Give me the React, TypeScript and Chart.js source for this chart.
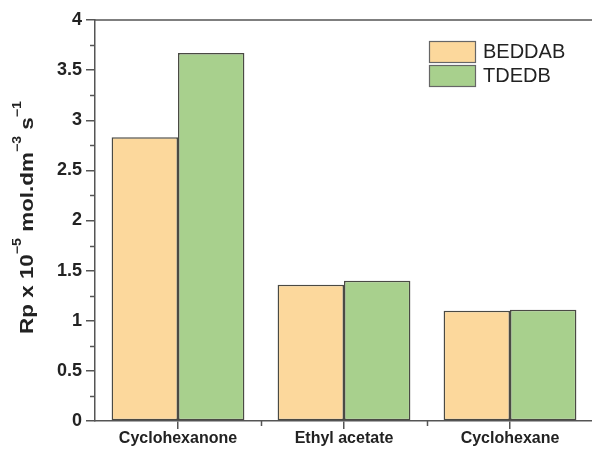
import { useEffect, useRef } from "react";
import { Chart, registerables } from "chart.js";

Chart.register(...registerables);

// Polymerization rate per solvent for the two initiators
const solvents = ["Cyclohexanone", "Ethyl acetate", "Cyclohexane"];
const seriesNames = ["BEDDAB", "TDEDB"];
const beddabRates = [2.83, 1.36, 1.1];
const tdedbRates = [3.67, 1.4, 1.11];
const yMin = 0;
const yMax = 4;
const yStep = 0.5;

// Y-axis title split into normal and superscript runs
const yTitleRuns = ["Rp x 10", "\u22125", " mol.dm", "\u22123", " s", "\u22121"];
const yTitleSup = [false, true, false, true, false, true];

const FONT = "'Liberation Sans', Arial, sans-serif";
const AXIS_COLOR = "#555555";
const FILLS = ["#fcd89c", "#a8d08d"];
const EDGE = "#4a4a44";

// Minor ticks, top frame line, y title with superscripts and the legend
const decorations = {
  id: "decorations",
  afterDraw(chart: any) {
    const { ctx, chartArea } = chart;
    const xs = chart.scales.x;
    const ys = chart.scales.y;
    ctx.save();
    ctx.strokeStyle = AXIS_COLOR;
    ctx.lineWidth = 1.5;

    // top frame
    ctx.beginPath();
    ctx.moveTo(chartArea.left, chartArea.top);
    ctx.lineTo(chartArea.right, chartArea.top);
    ctx.stroke();

    // y minor ticks
    for (let v = yMin + yStep / 2; v < yMax; v += yStep) {
      const py = Math.round(ys.getPixelForValue(v)) + 0.5;
      ctx.beginPath();
      ctx.moveTo(chartArea.left - 5, py);
      ctx.lineTo(chartArea.left, py);
      ctx.stroke();
    }
    // x minor ticks between categories
    for (let i = 0; i < solvents.length - 1; i++) {
      const px = Math.round((xs.getPixelForValue(i) + xs.getPixelForValue(i + 1)) / 2) + 0.5;
      ctx.beginPath();
      ctx.moveTo(px, chartArea.bottom);
      ctx.lineTo(px, chartArea.bottom + 5);
      ctx.stroke();
    }

    // rotated y title (slightly widened lettering)
    const mainFont = `bold 19px ${FONT}`;
    const supFont = `bold 12px ${FONT}`;
    const stretch = 1.18;
    let total = 0;
    yTitleRuns.forEach((t, i) => {
      ctx.font = yTitleSup[i] ? supFont : mainFont;
      total += ctx.measureText(t).width;
    });
    ctx.save();
    ctx.translate(33, (chartArea.top + chartArea.bottom) / 2 - 3);
    ctx.rotate(-Math.PI / 2);
    ctx.scale(stretch, 1);
    ctx.fillStyle = "#222222";
    ctx.textAlign = "left";
    ctx.textBaseline = "alphabetic";
    let cx = -total / 2;
    yTitleRuns.forEach((t, i) => {
      ctx.font = yTitleSup[i] ? supFont : mainFont;
      ctx.fillText(t, cx, yTitleSup[i] ? -12 : 0);
      cx += ctx.measureText(t).width;
    });
    ctx.restore();

    // legend
    const lx = 429;
    const ly = 41;
    const sw = 46;
    const sh = 21;
    const gap = 24;
    ctx.font = `20px ${FONT}`;
    ctx.textBaseline = "middle";
    ctx.textAlign = "left";
    chart.data.datasets.forEach((ds: any, i: number) => {
      const y = ly + i * gap;
      ctx.fillStyle = ds.backgroundColor;
      ctx.fillRect(lx, y, sw, sh);
      ctx.lineWidth = 1.2;
      ctx.strokeStyle = "#666666";
      ctx.strokeRect(lx + 0.5, y + 0.5, sw, sh);
      ctx.fillStyle = "#222222";
      ctx.fillText(ds.label, lx + sw + 8, y + sh / 2 + 1);
    });
    ctx.restore();
  },
};

export default function App() {
  const canvasRef = useRef<HTMLCanvasElement | null>(null);

  useEffect(() => {
    const canvas = canvasRef.current;
    if (!canvas) return;
    const chart = new Chart(canvas, {
      type: "bar",
      data: {
        labels: solvents,
        datasets: [
          {
            label: seriesNames[0],
            data: beddabRates,
            backgroundColor: FILLS[0],
            borderColor: EDGE,
            borderWidth: 1.5,
            borderSkipped: false,
          },
          {
            label: seriesNames[1],
            data: tdedbRates,
            backgroundColor: FILLS[1],
            borderColor: EDGE,
            borderWidth: 1.5,
            borderSkipped: false,
          },
        ],
      },
      options: {
        responsive: false,
        animation: false,
        devicePixelRatio: 1,
        layout: { padding: { left: 0, top: 20, right: 17, bottom: 0 } },
        datasets: { bar: { categoryPercentage: 0.8, barPercentage: 1.0 } },
        plugins: {
          legend: { display: false },
          tooltip: { enabled: false },
        },
        scales: {
          x: {
            offset: true,
            grid: {
              offset: false,
              drawOnChartArea: false,
              drawTicks: true,
              tickLength: 8,
              color: AXIS_COLOR,
              lineWidth: 1.5,
            },
            border: { display: true, color: AXIS_COLOR, width: 1.5 },
            ticks: {
              color: "#222222",
              padding: 0,
              font: { family: FONT, size: 16, weight: "bold" },
            },
            afterFit(scale: any) {
              scale.height = 30;
            },
          },
          y: {
            min: yMin,
            max: yMax,
            ticks: {
              stepSize: yStep,
              color: "#222222",
              padding: 4,
              font: { family: FONT, size: 18, weight: "bold" },
              callback: (v: any) => String(Number(v)),
            },
            grid: {
              drawOnChartArea: false,
              drawTicks: true,
              tickLength: 9,
              color: AXIS_COLOR,
              lineWidth: 1.5,
            },
            border: { display: true, color: AXIS_COLOR, width: 1.5 },
            afterFit(scale: any) {
              scale.width = 95;
            },
          },
        },
      },
      plugins: [decorations],
    });
    return () => chart.destroy();
  }, []);

  return (
    <div
      style={{
        position: "fixed",
        left: 0,
        top: 0,
        width: 592,
        height: 451,
        overflow: "hidden",
        background: "#ffffff",
      }}
    >
      <canvas ref={canvasRef} width={610} height={451} />
    </div>
  );
}
